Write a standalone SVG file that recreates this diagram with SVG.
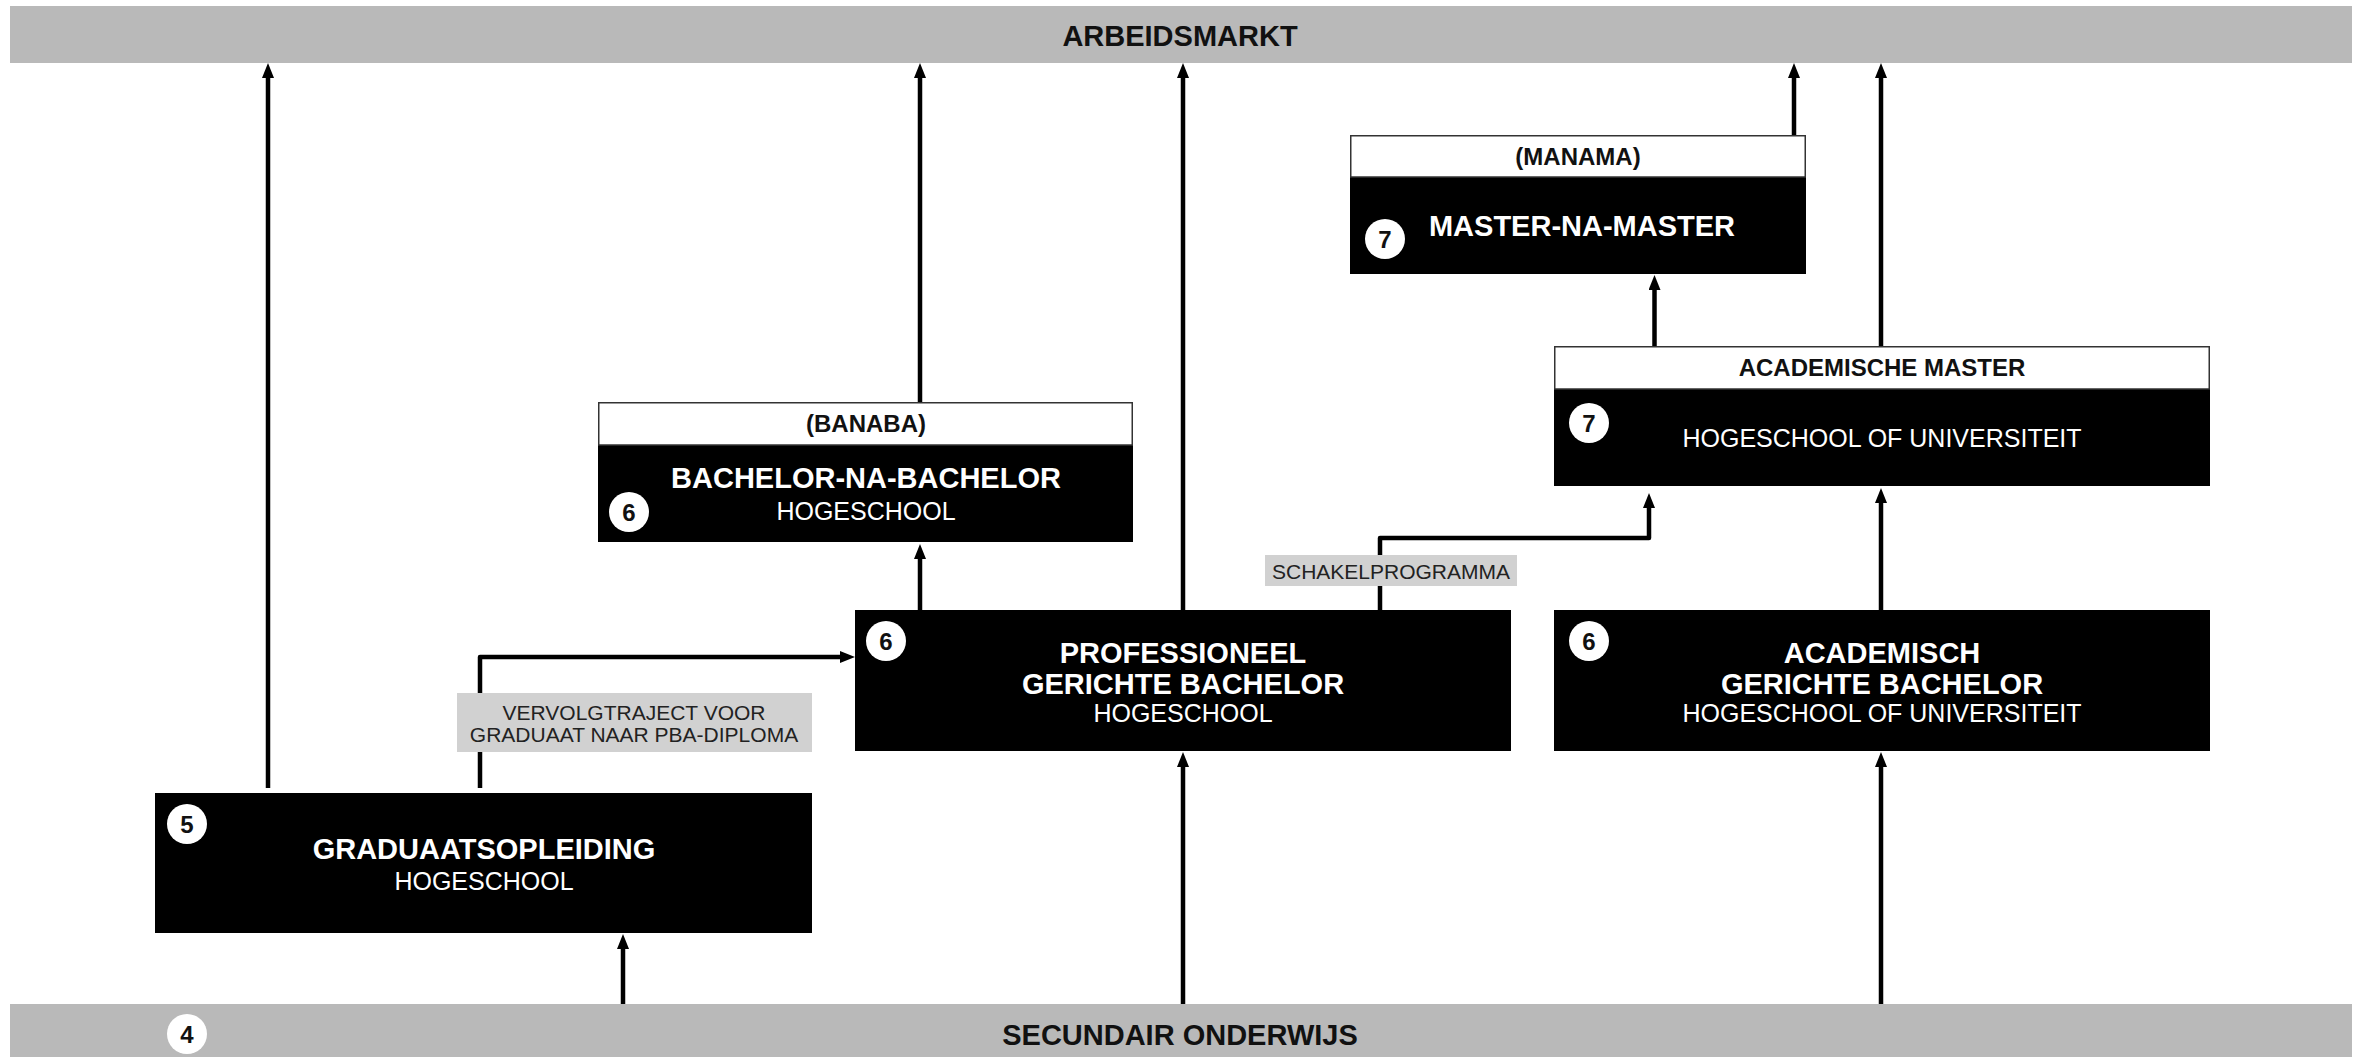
<svg xmlns="http://www.w3.org/2000/svg" width="2362" height="1057" viewBox="0 0 2362 1057">
<style>
  .bar { fill: #b9b9b9; }
  .box { fill: #000; }
  .hdr { fill: #fff; stroke: #333; stroke-width: 1.5; }
  .lbl { fill: #d1d1d1; }
  .t { font-family: "Liberation Sans", Arial, sans-serif; text-anchor: middle; }
  .bw { font-weight: bold; font-size: 29px; fill: #fff; }
  .rw { font-size: 25px; fill: #fff; }
  .bar-t { font-weight: bold; font-size: 29px; fill: #111; }
  .hdr-t { font-weight: bold; font-size: 24px; fill: #111; }
  .lbl-t { font-size: 21px; fill: #222; }
  .num-c { fill: #fff; }
  .num-t { font-weight: bold; font-size: 24px; fill: #111; }
  .con { fill: none; stroke: #000; stroke-width: 4.5; stroke-linejoin: round; }
</style>
<defs>
  <marker id="ah" markerUnits="userSpaceOnUse" markerWidth="16" markerHeight="12" refX="5" refY="6" orient="auto">
    <path d="M0,0 L15,6 L0,12 z" fill="#000"/>
  </marker>
</defs>
<rect width="2362" height="1057" fill="#fff"/>

<g id="arbeidsmarkt">
  <rect class="bar" x="10" y="6" width="2342" height="57"/>
  <text class="t bar-t" x="1180" y="46">ARBEIDSMARKT</text>
</g>

<g id="secundair-onderwijs">
  <rect class="bar" x="10" y="1004" width="2342" height="53"/>
  <circle class="num-c" cx="187" cy="1034" r="20"/>
  <text class="t num-t" x="187" y="1042.5">4</text>
  <text class="t bar-t" x="1180" y="1045">SECUNDAIR ONDERWIJS</text>
</g>

<g id="connectors">
  <path class="con" marker-end="url(#ah)" d="M268 788 V73"/>
  <path class="con" marker-end="url(#ah)" d="M920 402 V73"/>
  <path class="con" marker-end="url(#ah)" d="M1183 610 V73"/>
  <path class="con" marker-end="url(#ah)" d="M1794 135 V73"/>
  <path class="con" marker-end="url(#ah)" d="M1881 346 V73"/>
  <path class="con" marker-end="url(#ah)" d="M1654.5 346 V285"/>
  <path class="con" marker-end="url(#ah)" d="M920 610 V554"/>
  <path class="con" marker-end="url(#ah)" d="M1380 610 V538 H1649 V503"/>
  <path class="con" marker-end="url(#ah)" d="M1881 610 V498"/>
  <path class="con" marker-end="url(#ah)" d="M1881 1004 V762"/>
  <path class="con" marker-end="url(#ah)" d="M1183 1004 V762"/>
  <path class="con" marker-end="url(#ah)" d="M623 1004 V944"/>
  <path class="con" marker-end="url(#ah)" d="M480 788 V657 H845"/>
  <g id="label-vervolg">
    <rect class="lbl" x="457" y="693" width="355" height="59"/>
    <text class="t lbl-t" x="634" y="720">VERVOLGTRAJECT VOOR</text>
    <text class="t lbl-t" x="634" y="742">GRADUAAT NAAR PBA-DIPLOMA</text>
  </g>
  <g id="label-schakel">
    <rect class="lbl" x="1265" y="555" width="252" height="31"/>
    <text class="t lbl-t" x="1391" y="579">SCHAKELPROGRAMMA</text>
  </g>
</g>

<g id="manama">
  <rect class="box" x="1350" y="177" width="456" height="97"/>
  <rect class="hdr" x="1350.75" y="135.75" width="454.5" height="41.25"/>
  <text class="t hdr-t" x="1578" y="165">(MANAMA)</text>
  <circle class="num-c" cx="1385" cy="239" r="20"/>
  <text class="t num-t" x="1385" y="247.5">7</text>
  <text class="t bw" x="1582" y="236">MASTER-NA-MASTER</text>
</g>

<g id="academische-master">
  <rect class="box" x="1554" y="389" width="656" height="97"/>
  <rect class="hdr" x="1554.75" y="346.75" width="654.5" height="42.25"/>
  <text class="t hdr-t" x="1882" y="376">ACADEMISCHE MASTER</text>
  <circle class="num-c" cx="1589" cy="423" r="20"/>
  <text class="t num-t" x="1589" y="431.5">7</text>
  <text class="t rw" x="1882" y="447">HOGESCHOOL OF UNIVERSITEIT</text>
</g>

<g id="banaba">
  <rect class="box" x="598" y="445" width="535" height="97"/>
  <rect class="hdr" x="598.75" y="402.75" width="533.5" height="42.25"/>
  <text class="t hdr-t" x="866" y="432">(BANABA)</text>
  <circle class="num-c" cx="629" cy="512" r="20"/>
  <text class="t num-t" x="629" y="520.5">6</text>
  <text class="t bw" x="866" y="488">BACHELOR-NA-BACHELOR</text>
  <text class="t rw" x="866" y="520">HOGESCHOOL</text>
</g>

<g id="professioneel-bachelor">
  <rect class="box" x="855" y="610" width="656" height="141"/>
  <circle class="num-c" cx="886" cy="641" r="20"/>
  <text class="t num-t" x="886" y="649.5">6</text>
  <text class="t bw" x="1183" y="663">PROFESSIONEEL</text>
  <text class="t bw" x="1183" y="694">GERICHTE BACHELOR</text>
  <text class="t rw" x="1183" y="722">HOGESCHOOL</text>
</g>

<g id="academisch-bachelor">
  <rect class="box" x="1554" y="610" width="656" height="141"/>
  <circle class="num-c" cx="1589" cy="641" r="20"/>
  <text class="t num-t" x="1589" y="649.5">6</text>
  <text class="t bw" x="1882" y="663">ACADEMISCH</text>
  <text class="t bw" x="1882" y="694">GERICHTE BACHELOR</text>
  <text class="t rw" x="1882" y="722">HOGESCHOOL OF UNIVERSITEIT</text>
</g>

<g id="graduaatsopleiding">
  <rect class="box" x="155" y="793" width="657" height="140"/>
  <circle class="num-c" cx="187" cy="824" r="20"/>
  <text class="t num-t" x="187" y="832.5">5</text>
  <text class="t bw" x="484" y="859">GRADUAATSOPLEIDING</text>
  <text class="t rw" x="484" y="890">HOGESCHOOL</text>
</g>
</svg>
